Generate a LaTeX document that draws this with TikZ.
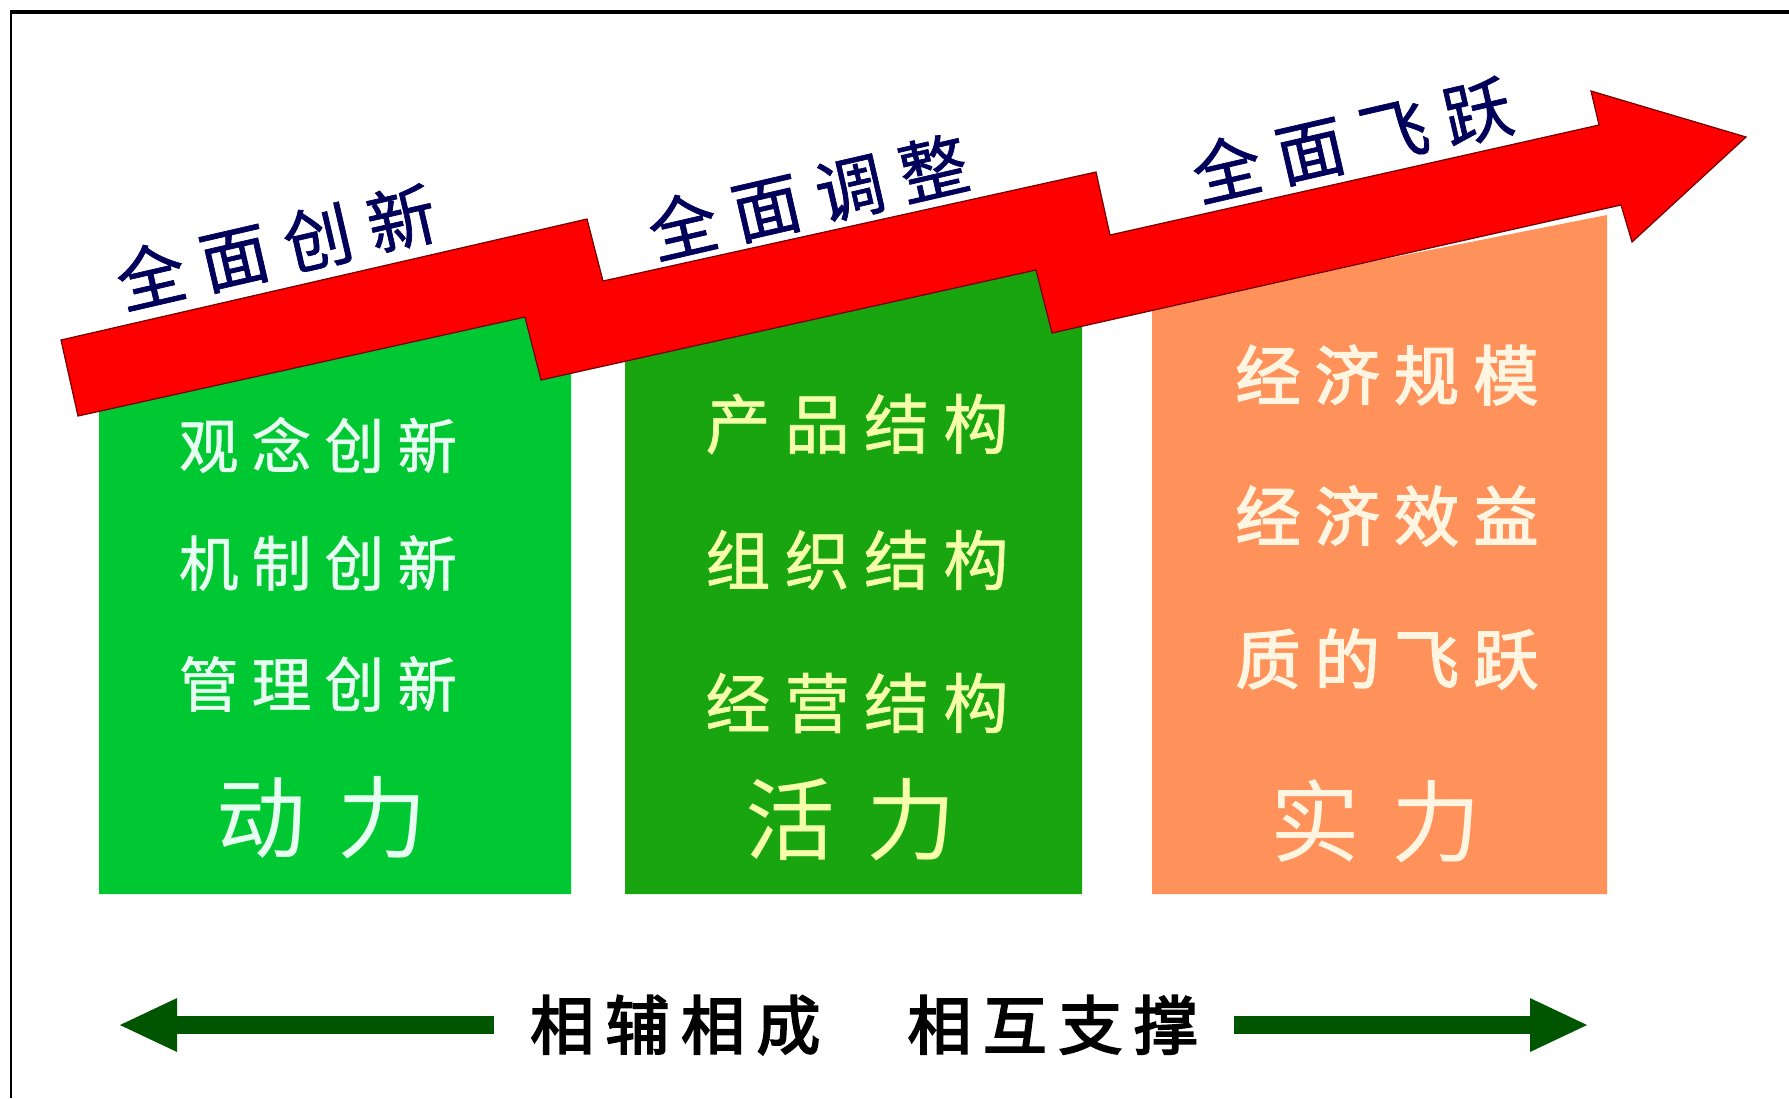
\documentclass[tikz,border=0pt]{standalone}
\usepackage{fontspec}
\usetikzlibrary{arrows.meta}

\newfontfamily\titlefont[LetterSpace=25,FakeBold=1]{Noto Sans CJK SC}
\newfontfamily\boxfont[LetterSpace=22,FakeBold=1]{Noto Sans CJK SC}
\newfontfamily\boxfontgras[LetterSpace=22,FakeBold=2.5]{Noto Sans CJK SC}
\newfontfamily\bigfont[LetterSpace=35]{Noto Sans CJK SC}
\newfontfamily\mottofont[FakeBold=3,LetterSpace=18]{Noto Sans CJK SC}

\definecolor{bandred}{RGB}{255,0,0}
\definecolor{titleblue}{RGB}{0,0,90}
\definecolor{greenA}{RGB}{0,200,50}
\definecolor{greenB}{RGB}{25,165,15}
\definecolor{orangeC}{RGB}{255,145,90}
\definecolor{textA}{RGB}{230,255,240}
\definecolor{textB}{RGB}{245,255,170}
\definecolor{textC}{RGB}{255,245,225}
\definecolor{arrowgreen}{RGB}{0,85,0}

\begin{document}
\begin{tikzpicture}[x=0.1mm, y=-0.1mm,
  titre/.style={text=titleblue, inner sep=0, rotate=13,
    font=\titlefont\fontsize{19.5pt}{19.5pt}\selectfont},
  ligne/.style={inner sep=0, font=\boxfont\fontsize{18.5pt}{18.5pt}\selectfont},
  grand/.style={inner sep=0, font=\bigfont\fontsize{25.5pt}{25.5pt}\selectfont},
  fleche/.style={draw=arrowgreen, line width=1.75mm,
    -{Triangle[length=5.9mm, width=4.9mm]}}]
  \useasboundingbox (0,0) rectangle (1789,1098);

  % Cadre
  \draw[line width=0.35mm] (10,12) -- (1789,12);
  \draw[line width=0.25mm] (11,10) -- (11,1098);

  % Colonnes
  \fill[greenA] (99,375) -- (571,290) -- (571,894) -- (99,894) -- cycle;
  \fill[greenB] (625,320) -- (1082,250) -- (1082,894) -- (625,894) -- cycle;
  \fill[orangeC] (1152,305) -- (1607,215) -- (1607,894) -- (1152,894) -- cycle;

  % Flèche rouge
  \filldraw[fill=bandred, draw=red!45!black, line width=0.12mm]
    (61,340) -- (587,219) -- (603,281) -- (1096,172) -- (1110,235)
    -- (1599,125) -- (1591,91) -- (1746,137) -- (1632,242) -- (1621,205)
    -- (1052,333) -- (1036,270) -- (541,380) -- (525,317) -- (78,416) -- cycle;

  % Titres
  \node[titre] (innov) at (276,247) {全面创新};
  \node[titre] (ajust) at (808,197) {全面调整};
  \node[titre] (saut) at (1352,140) {全面飞跃};

  % Colonne 1
  \node[ligne, text=textA, font=\boxfont\fontsize{17pt}{17pt}\selectfont] (idee) at (318,445) {观念创新};
  \node[ligne, text=textA, font=\boxfont\fontsize{17pt}{17pt}\selectfont] (meca) at (318,563) {机制创新};
  \node[ligne, text=textA, font=\boxfont\fontsize{17pt}{17pt}\selectfont] (gest) at (318,684) {管理创新};
  \node[grand, text=textA] (moteur) at (322,818) {动力};

  % Colonne 2
  \node[ligne, text=textB] (prod) at (857,424) {产品结构};
  \node[ligne, text=textB] (orga) at (857,560) {组织结构};
  \node[ligne, text=textB] (exploit) at (857,703) {经营结构};
  \node[grand, text=textB] (vigueur) at (851,820) {活力};

  % Colonne 3
  \node[ligne, text=textC, font=\boxfontgras\fontsize{18.5pt}{18.5pt}\selectfont] (echelle) at (1387,375) {经济规模};
  \node[ligne, text=textC, font=\boxfontgras\fontsize{18.5pt}{18.5pt}\selectfont] (benef) at (1387,516) {经济效益};
  \node[ligne, text=textC, font=\boxfontgras\fontsize{18.5pt}{18.5pt}\selectfont] (qualite) at (1387,659) {质的飞跃};
  \node[grand, text=textC] (force) at (1376,821) {实力};

  % Devise et flèches
  \node[inner sep=0, outer xsep=3.6mm,
    font=\mottofont\fontsize{18.2pt}{18.2pt}\selectfont] (devise) at (864,1025) {相辅相成　相互支撑};
  \coordinate (gauche) at (118,1025);
  \coordinate (droite) at (1589,1025);
  \draw[fleche] (devise.west) -- (gauche);
  \draw[fleche] (devise.east) -- (droite);
\end{tikzpicture}
\end{document}
